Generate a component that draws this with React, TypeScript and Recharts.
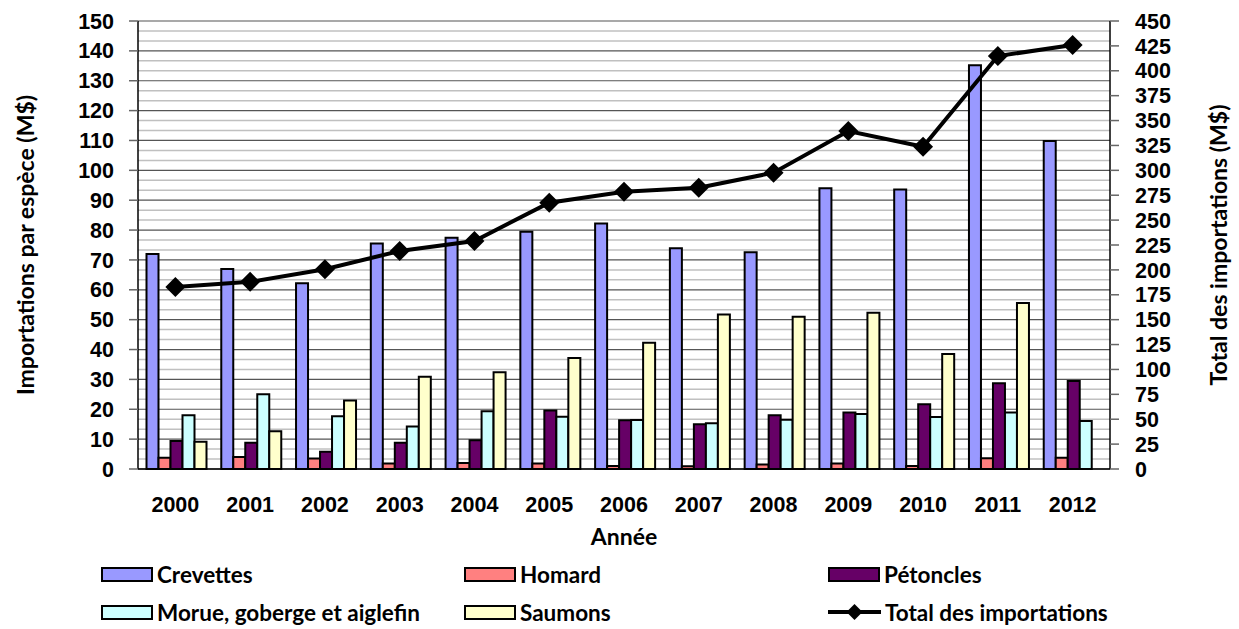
import React from 'react'
import {
  ComposedChart,
  Bar,
  Line,
  XAxis,
  YAxis,
  CartesianGrid,
} from 'recharts'

const years = ['2000', '2001', '2002', '2003', '2004', '2005', '2006', '2007', '2008', '2009', '2010', '2011', '2012']
const crevettes = [72, 67, 62.2, 75.5, 77.4, 79.4, 82.2, 73.9, 72.6, 94, 93.6, 135.2, 109.8]
const homard = [3.8, 4, 3.5, 1.8, 2, 1.8, 1, 0.9, 1.5, 1.8, 1, 3.6, 3.8]
const petoncles = [9.4, 8.8, 5.8, 8.8, 9.6, 19.6, 16.3, 15, 18, 18.9, 21.7, 28.7, 29.5]
const morue = [18, 25, 17.7, 14.2, 19.3, 17.5, 16.4, 15.3, 16.5, 18.4, 17.4, 18.9, 16.1]
const saumons = [9.1, 12.6, 22.9, 30.9, 32.4, 37.2, 42.3, 51.7, 51, 52.3, 38.5, 55.6, null]
const total = [182.8, 188, 200.6, 219, 229, 267.5, 278.5, 282.6, 297.6, 339.5, 323.7, 414.8, 425.9]

const leftTicks = [0, 10, 20, 30, 40, 50, 60, 70, 80, 90, 100, 110, 120, 130, 140, 150]
const rightTicks = [0, 25, 50, 75, 100, 125, 150, 175, 200, 225, 250, 275, 300, 325, 350, 375, 400, 425, 450]
// light grid lines every third of 10
const minorGrid = Array.from({ length: 46 }, (_, i) => (i * 10) / 3).filter((v) => Math.round(v * 3) % 30 !== 0)

const data = years.map((y, i) => ({
  year: y,
  crevettes: crevettes[i],
  homard: homard[i],
  petoncles: petoncles[i],
  morue: morue[i],
  saumons: saumons[i],
  total: total[i],
}))

const font = 'Lato, "Open Sans", sans-serif'
const tick = { fontSize: 21.5, fontWeight: 700, fill: '#000', fontFamily: '"Liberation Sans", Arial, sans-serif' }
const title = { fontSize: 23, fontWeight: 700, fill: '#000', fontFamily: font, textAnchor: 'middle' as const }

const Diamond = (props: any) => {
  const { cx, cy } = props
  if (cx == null || cy == null) return null
  const r = 10
  return (
    <polygon
      points={`${cx},${cy - r} ${cx + r},${cy} ${cx},${cy + r} ${cx - r},${cy}`}
      fill="#000"
    />
  )
}

const legendItems = [
  { name: 'Crevettes', color: '#9999ff', x: 101, y: 574 },
  { name: 'Homard', color: '#ff8080', x: 464, y: 574 },
  { name: 'Pétoncles', color: '#660066', x: 828, y: 574 },
  { name: 'Morue, goberge et aiglefin', color: '#ccffff', x: 101, y: 612 },
  { name: 'Saumons', color: '#ffffcc', x: 464, y: 612 },
]

const legendText = {
  position: 'absolute' as const,
  height: 28,
  display: 'flex',
  alignItems: 'center',
  fontFamily: font,
  fontWeight: 700,
  fontSize: 22.5,
  color: '#000',
  whiteSpace: 'nowrap' as const,
}

export default function App() {
  return (
    <div style={{ position: 'absolute', left: 0, top: 0, width: 1239, height: 629, background: '#fff' }}>
      <ComposedChart
        width={1239}
        height={629}
        data={data}
        margin={{ top: 21, right: 0, left: 0, bottom: 80 }}
        barGap={0}
        barCategoryGap={8.5}
      >
        <CartesianGrid
          yAxisId="left"
          vertical={false}
          horizontalValues={minorGrid}
          stroke="#c0c0c0"
          strokeWidth={1.5}
        />
        <CartesianGrid
          yAxisId="left"
          vertical={false}
          horizontalValues={leftTicks}
          stroke="#555"
          strokeWidth={1.2}
        />
        <XAxis
          dataKey="year"
          tick={tick}
          tickLine={false}
          axisLine={{ stroke: '#000', strokeWidth: 1.5 }}
          tickMargin={22}
          height={80}
          label={{ value: 'Année', position: 'insideBottom', offset: 4, style: title }}
        />
        <XAxis
          xAxisId="bounds"
          type="number"
          domain={[0, 13]}
          ticks={[0, 1, 2, 3, 4, 5, 6, 7, 8, 9, 10, 11, 12, 13]}
          tick={false}
          tickSize={8}
          tickLine={{ stroke: '#666', strokeWidth: 1.5 }}
          axisLine={false}
          height={0}
        />
        <YAxis
          yAxisId="left"
          domain={[0, 150]}
          ticks={leftTicks}
          interval={0}
          width={138}
          tick={tick}
          tickSize={9}
          tickMargin={15}
          tickLine={{ stroke: '#666', strokeWidth: 1.5 }}
          axisLine={{ stroke: '#000', strokeWidth: 1.5 }}
          label={{
            value: 'Importations par espèce (M$)',
            angle: -90,
            position: 'insideLeft',
            offset: 26,
            style: title,
          }}
        />
        <YAxis
          yAxisId="right"
          orientation="right"
          domain={[0, 450]}
          ticks={rightTicks}
          interval={0}
          width={129}
          tick={{ ...tick, textAnchor: 'start' }}
          tickSize={9}
          tickMargin={16}
          tickLine={{ stroke: '#666', strokeWidth: 1.5 }}
          axisLine={{ stroke: '#000', strokeWidth: 1.5 }}
          label={{
            value: 'Total des importations (M$)',
            angle: -90,
            position: 'insideRight',
            offset: 20,
            style: title,
          }}
        />
        <Bar yAxisId="left" dataKey="crevettes" fill="#9999ff" stroke="#000" strokeWidth={2} isAnimationActive={false} />
        <Bar yAxisId="left" dataKey="homard" fill="#ff8080" stroke="#000" strokeWidth={2} isAnimationActive={false} />
        <Bar yAxisId="left" dataKey="petoncles" fill="#660066" stroke="#000" strokeWidth={2} isAnimationActive={false} />
        <Bar yAxisId="left" dataKey="morue" fill="#ccffff" stroke="#000" strokeWidth={2} isAnimationActive={false} />
        <Bar yAxisId="left" dataKey="saumons" fill="#ffffcc" stroke="#000" strokeWidth={2} isAnimationActive={false} />
        <Line
          yAxisId="right"
          dataKey="total"
          stroke="#000"
          strokeWidth={4}
          dot={<Diamond />}
          activeDot={false}
          isAnimationActive={false}
        />
      </ComposedChart>
      {legendItems.map((it) => (
        <div key={it.name} style={{ ...legendText, left: it.x, top: it.y - 14 }}>
          <span
            style={{
              display: 'inline-block',
              width: 48,
              height: 11,
              background: it.color,
              border: '2px solid #000',
              marginRight: 4,
            }}
          />
          {it.name}
        </div>
      ))}
      <div style={{ ...legendText, left: 828, top: 612 - 14 }}>
        <svg width={53} height={22} style={{ marginRight: 4 }}>
          <line x1={0} y1={11} x2={53} y2={11} stroke="#000" strokeWidth={4} />
          <polygon points="26.5,3 34.5,11 26.5,19 18.5,11" fill="#000" />
        </svg>
        Total des importations
      </div>
    </div>
  )
}
